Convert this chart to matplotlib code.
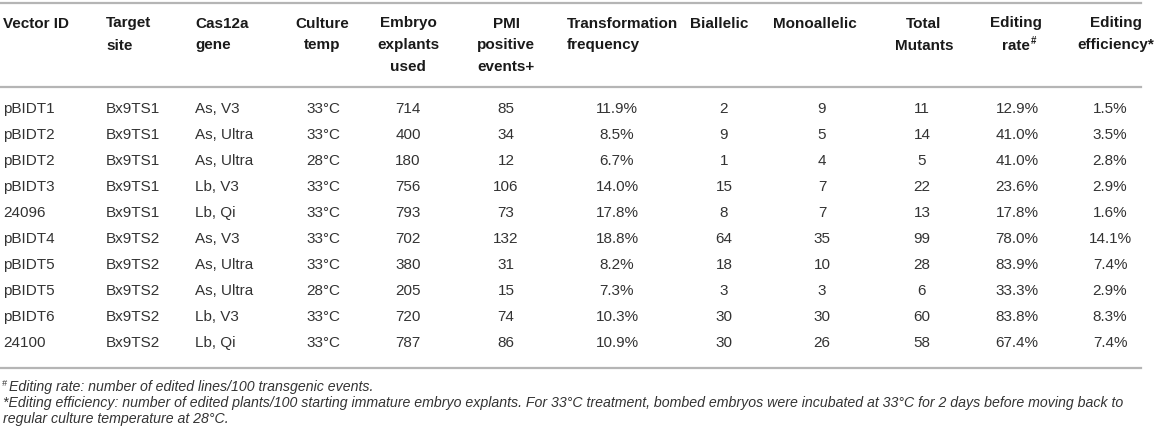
import matplotlib
matplotlib.use("Agg")
import matplotlib.pyplot as plt
from matplotlib import font_manager

# table values
vector_ids = ["pBIDT1", "pBIDT2", "pBIDT2", "pBIDT3", "24096",
              "pBIDT4", "pBIDT5", "pBIDT5", "pBIDT6", "24100"]
target_sites = ["Bx9TS1"] * 5 + ["Bx9TS2"] * 5
cas12a_genes = ["As, V3", "As, Ultra", "As, Ultra", "Lb, V3", "Lb, Qi",
                "As, V3", "As, Ultra", "As, Ultra", "Lb, V3", "Lb, Qi"]
culture_temps = [33, 33, 28, 33, 33, 33, 33, 28, 33, 33]
explants_used = [714, 400, 180, 756, 793, 702, 380, 205, 720, 787]
pmi_events = [85, 34, 12, 106, 73, 132, 31, 15, 74, 86]
transformation_freq = [11.9, 8.5, 6.7, 14.0, 17.8, 18.8, 8.2, 7.3, 10.3, 10.9]
biallelic = [2, 9, 1, 15, 8, 64, 18, 3, 30, 30]
monoallelic = [9, 5, 4, 7, 7, 35, 10, 3, 30, 26]
total_mutants = [11, 14, 5, 22, 13, 99, 28, 6, 60, 58]
editing_rate = [12.9, 41.0, 41.0, 23.6, 17.8, 78.0, 83.9, 33.3, 83.8, 67.4]
editing_eff = [1.5, 3.5, 2.8, 2.9, 1.6, 14.1, 7.4, 2.9, 8.3, 7.4]

headers = [["Vector ID"], ["Target", "site"], ["Cas12a", "gene"],
           ["Culture", "temp"], ["Embryo", "explants", "used"],
           ["PMI", "positive", "events+"], ["Transformation", "frequency"],
           ["Biallelic"], ["Monoallelic"], ["Total", "Mutants"],
           ["Editing", "rate"], ["Editing", "efficiency*"]]

footnotes = [
    "Editing rate: number of edited lines/100 transgenic events.",
    "*Editing efficiency: number of edited plants/100 starting immature embryo explants. "
    "For 33\u00b0C treatment, bombed embryos were incubated at 33\u00b0C for 2 days before moving back to",
    "regular culture temperature at 28\u00b0C.",
]

columns = [
    vector_ids,
    target_sites,
    cas12a_genes,
    [f"{t}\u00b0C" for t in culture_temps],
    [str(v) for v in explants_used],
    [str(v) for v in pmi_events],
    [f"{v:.1f}%" for v in transformation_freq],
    [str(v) for v in biallelic],
    [str(v) for v in monoallelic],
    [str(v) for v in total_mutants],
    [f"{v:.1f}%" for v in editing_rate],
    [f"{v:.1f}%" for v in editing_eff],
]

# layout in pixels (x of column, alignment)
col_x = [3, 106, 195, 323, 408, 506, 617, 724, 822, 922, 1017, 1110]
col_ha = ["left", "left", "left"] + ["center"] * 9
head_x = [3, 106, 195, 322, 408, 506, 567, 719, 815, 924, 1016, 1116]
head_ha = ["left", "left", "left", "center", "center", "center", "left",
           "center", "center", "center", "center", "center"]
head_y = [23.5, 45.5, 67]
row_y0, row_dy = 109, 26

installed = {f.name for f in font_manager.fontManager.ttflist}
plt.rcParams["font.family"] = ["Liberation Sans", "DejaVu Sans"]
note_family = "Liberation Sans Narrow" if "Liberation Sans Narrow" in installed else "Liberation Sans"

W, H = 1157, 438
fig = plt.figure(figsize=(W / 100, H / 100), dpi=100)
ax = fig.add_axes([0, 0, 1, 1])
ax.set_xlim(0, W)
ax.set_ylim(H, 0)
ax.axis("off")

line_kw = dict(color="#b5b5b5", lw=1.6)
for y in (3, 87, 368):
    ax.plot([0, 1141], [y, y], **line_kw)

head_color = "#1a1a1a"
data_color = "#333333"
fs = 11

renderer = fig.canvas.get_renderer()
for x, ha, lines in zip(head_x, head_ha, headers):
    for i, line in enumerate(lines):
        t = ax.text(x, head_y[i], line, ha=ha, va="center", fontsize=fs,
                    fontweight="bold", color=head_color)
        if line == "rate":
            bb = t.get_window_extent(renderer).transformed(ax.transData.inverted())
            ax.text(bb.x1 + 0.5, head_y[i] - 5, "#", ha="left", va="center",
                    fontsize=7, fontweight="bold", color=head_color)

for x, ha, values in zip(col_x, col_ha, columns):
    for r, val in enumerate(values):
        ax.text(x, row_y0 + r * row_dy, val, ha=ha, va="center",
                fontsize=fs, color=data_color)

note_y = [387, 403, 419]
note_fs = 10.2
ax.text(2, note_y[0] - 4, "#", ha="left", va="center", fontsize=6.5,
        style="italic", color=data_color, family=note_family)
ax.text(9, note_y[0], footnotes[0], ha="left", va="center", fontsize=note_fs,
        style="italic", color=data_color, family=note_family)
ax.text(3, note_y[1], footnotes[1], ha="left", va="center", fontsize=note_fs,
        style="italic", color=data_color, family=note_family)
ax.text(3, note_y[2], footnotes[2], ha="left", va="center", fontsize=note_fs,
        style="italic", color=data_color, family=note_family)

fig.savefig("out.png", dpi=100)
